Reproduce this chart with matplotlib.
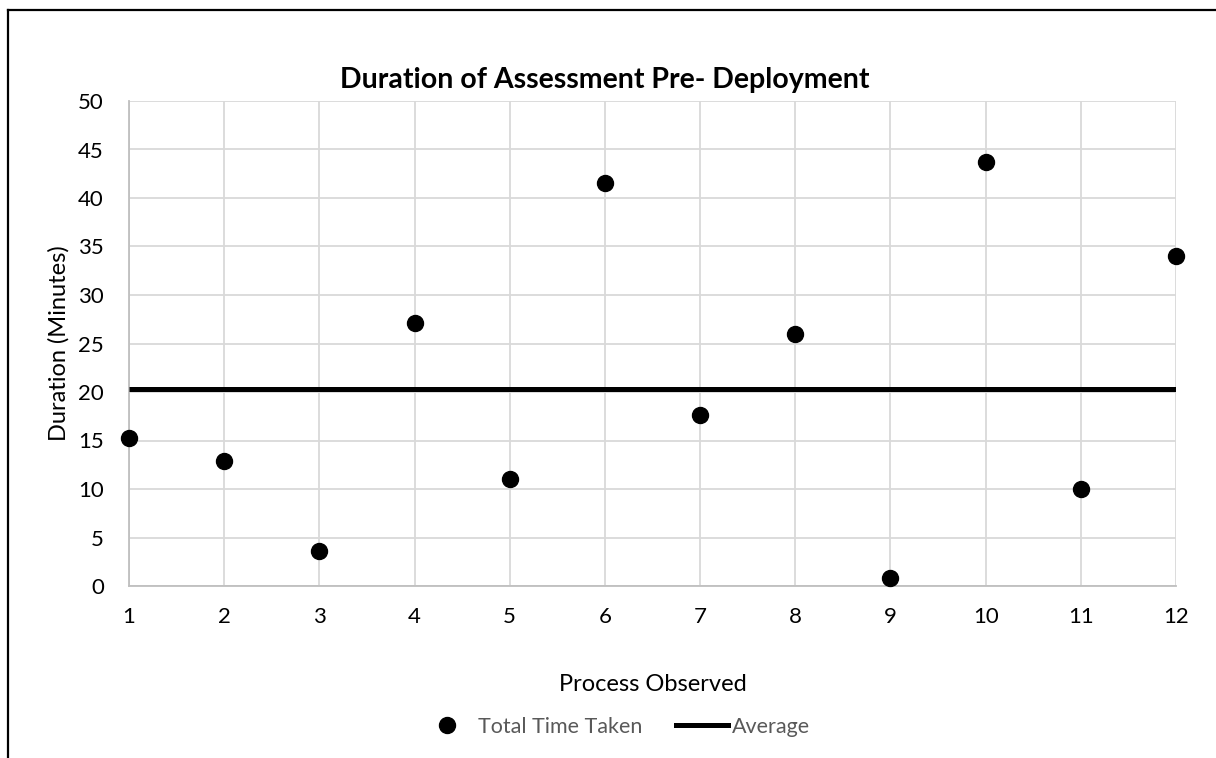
import matplotlib

matplotlib.use("Agg")
import matplotlib.pyplot as plt
from matplotlib.lines import Line2D

matplotlib.rcParams["font.family"] = ["Lato", "DejaVu Sans"]

# Werte
process_ids = [1, 2, 3, 4, 5, 6, 7, 8, 9, 10, 11, 12]
total_time = [15.3, 12.9, 3.6, 27.1, 11.0, 41.5, 17.6, 26.0, 0.8, 43.7, 10.0, 34.0]
average_time = 20.3
y_ticks = [0, 5, 10, 15, 20, 25, 30, 35, 40, 45, 50]

GRID = "#d9d9d9"
LEGEND_TEXT = "#595959"

fig = plt.figure(figsize=(12.16, 7.58), dpi=100)
ax = fig.add_axes([129 / 1216, 1 - 586 / 758, (1176 - 129) / 1216, (586 - 101) / 758])

# Mittelwertlinie ueber alle Prozesse
ax.plot([process_ids[0], process_ids[-1]], [average_time, average_time],
        color="black", linewidth=3.6, solid_capstyle="butt", zorder=3, label="Average")
ax.plot(process_ids, total_time, linestyle="none", marker="o", markersize=11.5,
        color="black", clip_on=False, zorder=4, label="Total Time Taken")

ax.set_xlim(1, 12)
ax.set_ylim(0, 50)
ax.set_xticks(process_ids)
ax.set_yticks(y_ticks)
ax.tick_params(length=0, labelsize=16, colors="black")
ax.tick_params(axis="x", pad=15)
ax.tick_params(axis="y", pad=18)
ax.grid(True, color=GRID, linewidth=1.3)
ax.set_axisbelow(True)
for side in ["top", "right"]:
    ax.spines[side].set_visible(False)
for side in ["left", "bottom"]:
    ax.spines[side].set_color("#bfbfbf")
    ax.spines[side].set_linewidth(1.3)

ax.set_xlabel("Process Observed", fontsize=17, labelpad=34)
ax.set_ylabel("Duration (Minutes)", fontsize=17, labelpad=6)

fig.text(605 / 1216, 1 - 80 / 758, "Duration of Assessment Pre- Deployment",
         ha="center", va="center", fontsize=20.5, fontweight="bold")

handles = [
    Line2D([], [], linestyle="none", marker="o", markersize=11.5, color="black"),
    Line2D([], [], color="black", linewidth=3.6),
]
fig.legend(handles, ["Total Time Taken", "Average"], loc="center",
           bbox_to_anchor=(616 / 1216, 1 - 727 / 758), ncol=2, frameon=False,
           fontsize=15.5, labelcolor=LEGEND_TEXT, handlelength=2.4,
           handletextpad=0.2, columnspacing=1.6)

# Rahmen des (abgeschnittenen) Diagrammbereichs
fig.add_artist(Line2D([8 / 1216, 8 / 1216], [0, 1 - 10 / 758],
                      transform=fig.transFigure, color="black", linewidth=1.6))
fig.add_artist(Line2D([8 / 1216, 1], [1 - 10 / 758, 1 - 10 / 758],
                      transform=fig.transFigure, color="black", linewidth=1.6))

fig.savefig("out.png", dpi=100)
plt.close(fig)
